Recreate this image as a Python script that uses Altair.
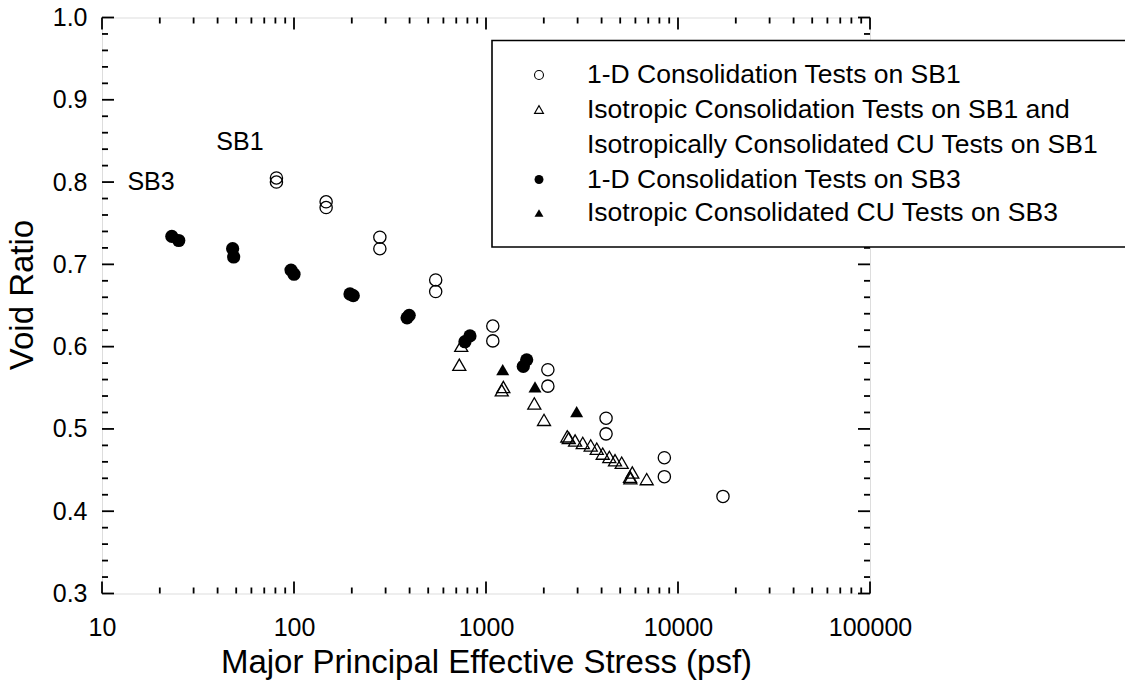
import altair as alt
import pandas as pd

# ---------------- data ----------------
# 1-D consolidation tests on SB1 (open circles)
sb1_od_stress = [81, 81, 147, 147, 280, 280, 547, 547, 1085, 1085, 2100, 2100,
                 4220, 4220, 8490, 8490, 17150]
sb1_od_void = [0.805, 0.800, 0.776, 0.769, 0.733, 0.719, 0.681, 0.667, 0.625, 0.607,
               0.572, 0.552, 0.513, 0.494, 0.465, 0.442, 0.418]

# Isotropic consolidation / isotropically consolidated CU tests on SB1 (open triangles)
sb1_iso_stress = [743, 726, 1231, 1208, 1785, 2005, 2651, 2698, 2911, 3191, 3510,
                  3774, 4054, 4389, 4698, 5090, 5780, 5625, 5650, 6870]
sb1_iso_void = [0.601, 0.578, 0.551, 0.547, 0.531, 0.511, 0.491, 0.489, 0.486, 0.483,
                0.480, 0.476, 0.470, 0.466, 0.462, 0.459, 0.447, 0.442, 0.440, 0.439]

# 1-D consolidation tests on SB3 (filled circles)
sb3_od_stress = [23.1, 25.1, 47.9, 48.5, 96.5, 100, 195.7, 203.5, 388, 398, 777, 825,
                 1564, 1629]
sb3_od_void = [0.734, 0.729, 0.719, 0.709, 0.693, 0.688, 0.664, 0.662, 0.635, 0.638,
               0.606, 0.613, 0.576, 0.584]

# Isotropic consolidated CU tests on SB3 (filled triangles)
sb3_iso_stress = [1222, 1800, 2966]
sb3_iso_void = [0.572, 0.551, 0.521]

# annotations
ann_text = ["SB1", "SB3"]
ann_stress = [52.3, 18.0]
ann_void = [0.849, 0.800]

# axis ticks
x_major = [10, 100, 1000, 10000, 100000]
x_minor = [k * 10 ** d for d in range(1, 5) for k in range(2, 10)]
y_major = [0.3, 0.4, 0.5, 0.6, 0.7, 0.8, 0.9, 1.0]
y_minor = [0.32, 0.34, 0.36, 0.38, 0.42, 0.44, 0.46, 0.48, 0.52, 0.54, 0.56, 0.58,
           0.62, 0.64, 0.66, 0.68, 0.72, 0.74, 0.76, 0.78, 0.82, 0.84, 0.86, 0.88,
           0.92, 0.94, 0.96, 0.98]

legend_labels = [
    "1-D Consolidation Tests on SB1",
    "Isotropic Consolidation Tests on SB1 and",
    "Isotropically Consolidated CU Tests on SB1",
    "1-D Consolidation Tests on SB3",
    "Isotropic Consolidated CU Tests on SB3",
]
legend_shapes = ["circle", "triangle-up", None, "circle", "triangle-up"]
legend_filled = [False, False, None, True, True]

# ---------------- layout ----------------
W, H = 768, 576
FONT = "Liberation Sans"
xscale = alt.Scale(type="log", domain=[10, 100000], nice=False)
yscale = alt.Scale(domain=[0.3, 1.0], nice=False, zero=False)

x_axis = alt.Axis(values=x_major, labelExpr="format(datum.value, 'd')", ticks=False,
                  tickSize=0, domain=False, grid=False, labelFontSize=25,
                  labelFont=FONT, labelColor="black", labelPadding=22,
                  title="Major Principal Effective Stress (psf)", titleFont=FONT,
                  titleFontSize=33, titleFontWeight="normal", titleColor="black",
                  titleY=69, titleBaseline="middle", labelFlush=False,
                  labelOverlap=False)
y_axis = alt.Axis(values=y_major, format=".1f", ticks=False, tickSize=0, domain=False,
                  grid=False, labelFontSize=25, labelFont=FONT, labelColor="black",
                  labelPadding=15, title="Void Ratio", titleFont=FONT,
                  titleFontSize=33, titleFontWeight="normal", titleColor="black",
                  titleX=-80, titleY=277, titleBaseline="middle", labelFlush=False,
                  labelOverlap=False)


def xenc(field):
    return alt.X(field, type="quantitative", scale=xscale, axis=x_axis,
                 title="Major Principal Effective Stress (psf)")


def yenc(field):
    return alt.Y(field, type="quantitative", scale=yscale, axis=y_axis,
                 title="Void Ratio")


layers = []

df1 = pd.DataFrame({"s": sb1_od_stress, "e": sb1_od_void})
layers.append(alt.Chart(df1).mark_point(shape="circle", filled=False, color="black",
                                        size=150, strokeWidth=1.3, opacity=1)
              .encode(x=xenc("s"), y=yenc("e")))

df2 = pd.DataFrame({"s": sb1_iso_stress, "e": sb1_iso_void})
layers.append(alt.Chart(df2).mark_point(shape="triangle-up", filled=False, color="black",
                                        size=170, strokeWidth=1.3, opacity=1)
              .encode(x=xenc("s"), y=yenc("e")))

df3 = pd.DataFrame({"s": sb3_od_stress, "e": sb3_od_void})
layers.append(alt.Chart(df3).mark_point(shape="circle", filled=True, color="black",
                                        size=175, opacity=1)
              .encode(x=xenc("s"), y=yenc("e")))

df4 = pd.DataFrame({"s": sb3_iso_stress, "e": sb3_iso_void})
layers.append(alt.Chart(df4).mark_point(shape="triangle-up", filled=True, color="black",
                                        size=170, opacity=1)
              .encode(x=xenc("s"), y=yenc("e")))

dfa = pd.DataFrame({"t": ann_text, "s": ann_stress, "e": ann_void})
layers.append(alt.Chart(dfa).mark_text(font=FONT, fontSize=25, color="black",
                                       align="center", baseline="middle")
              .encode(x=xenc("s"), y=yenc("e"), text="t:N"))

# tick marks (inward) on all four sides
TW = 1.8
for vals, ln in ((x_major, 12), (x_minor, 6)):
    d = pd.DataFrame({"s": vals})
    layers.append(alt.Chart(d).mark_rule(color="black", strokeWidth=TW)
                  .encode(x=xenc("s"), y=alt.value(H), y2=alt.value(H - ln)))
    layers.append(alt.Chart(d).mark_rule(color="black", strokeWidth=TW)
                  .encode(x=xenc("s"), y=alt.value(0), y2=alt.value(ln)))
for vals, ln in ((y_major, 12), (y_minor, 6)):
    d = pd.DataFrame({"e": vals})
    layers.append(alt.Chart(d).mark_rule(color="black", strokeWidth=TW)
                  .encode(y=yenc("e"), x=alt.value(0), x2=alt.value(ln)))
    layers.append(alt.Chart(d).mark_rule(color="black", strokeWidth=TW)
                  .encode(y=yenc("e"), x=alt.value(W), x2=alt.value(W - ln)))

# legend box (extends past the right edge of the figure)
one = pd.DataFrame({"k": [0]})
layers.append(alt.Chart(one).mark_rect(fill="white", stroke="black", strokeWidth=1.6)
              .encode(x=alt.value(390), x2=alt.value(1060),
                      y=alt.value(23), y2=alt.value(229.5)))
row_y = [57.5, 92, 127, 162, 195.5]
for lab, shp, fil, ry in zip(legend_labels, legend_shapes, legend_filled, row_y):
    dl = pd.DataFrame({"t": [lab]})
    layers.append(alt.Chart(dl).mark_text(font=FONT, fontSize=26.5, color="black",
                                          align="left", baseline="middle")
                  .encode(x=alt.value(485), y=alt.value(ry), text="t:N"))
    if shp is not None:
        layers.append(alt.Chart(dl).mark_point(shape=shp, filled=fil, color="black",
                                               size=80, strokeWidth=1.1, opacity=1)
                      .encode(x=alt.value(437), y=alt.value(ry)))

chart = (alt.layer(*layers)
         .properties(width=W, height=H,
                     padding={"left": 102, "top": 17.5, "right": 255, "bottom": 90.5},
                     autosize=alt.AutoSizeParams(type="none"))
         .configure_view(stroke="black", strokeWidth=1.7)
         .configure(background="white"))

chart.save("out.html", embed_options={"renderer": "svg", "actions": False})
